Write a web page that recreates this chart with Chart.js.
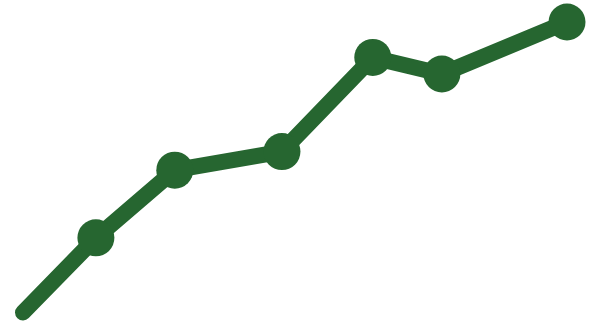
<!DOCTYPE html>
<html>
<head>
<meta charset="utf-8">
<script src="https://cdn.jsdelivr.net/npm/chart.js@4/dist/chart.umd.min.js"></script>
<style>
html,body{margin:0;padding:0;background:#fff;}
#wrap{width:589px;height:331px;position:relative;}
</style>
</head>
<body>
<div id="wrap"><canvas id="c"></canvas></div>
<script>
const xValues = [0, 13.4, 27.9, 47.6, 64.3, 77.0, 100];
const yValues = [0, 25.7, 49.0, 55.4, 87.8, 82.1, 100];
const pointSizes = [0, 18.5, 18.5, 18.5, 18.5, 18.5, 18.5];

const points = xValues.map((x, i) => ({x: x, y: yValues[i]}));
const green = 'rgb(38,102,48)';

new Chart(document.getElementById('c'), {
  type: 'scatter',
  data: {
    datasets: [{
      data: points,
      showLine: true,
      borderColor: green,
      backgroundColor: green,
      borderWidth: 16,
      borderCapStyle: 'round',
      borderJoinStyle: 'round',
      pointRadius: pointSizes,
      pointHoverRadius: pointSizes,
      pointBorderWidth: 0,
      tension: 0,
      clip: false
    }]
  },
  options: {
    responsive: true,
    maintainAspectRatio: false,
    animation: false,
    layout: {padding: {left: 23, right: 22, top: 22, bottom: 10}},
    plugins: {legend: {display: false}, tooltip: {enabled: false}},
    scales: {
      x: {type: 'linear', display: false, min: 0, max: 100},
      y: {type: 'linear', display: false, min: 0, max: 100}
    }
  }
});
</script>
</body>
</html>
